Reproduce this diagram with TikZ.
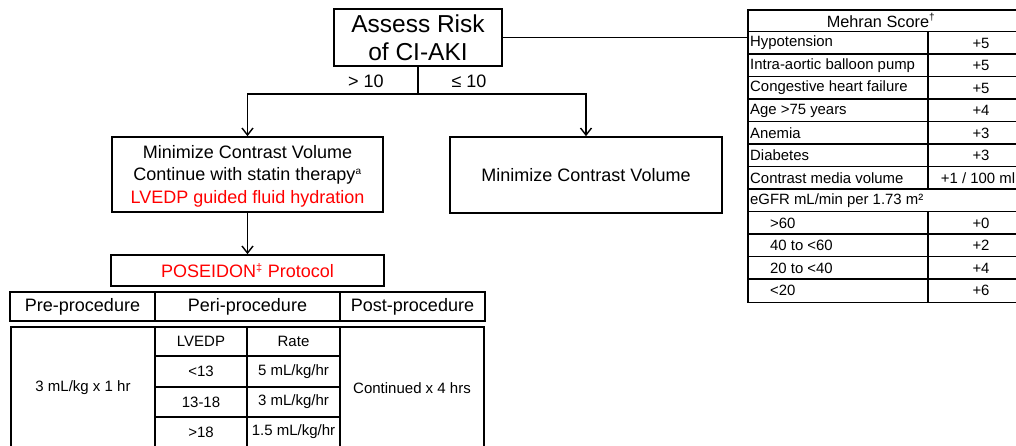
\documentclass[tikz,border=0pt]{standalone}
\usepackage{fontspec}
\setmainfont{Liberation Sans}
\usetikzlibrary{arrows.meta}
\begin{document}
\begin{tikzpicture}[x=1pt,y=-1pt,
  box/.style={draw, line width=1.7pt, inner sep=0pt, align=center},
  arr/.style={-{Straight Barb[length=7pt,width=11pt,line width=1.4pt]}, line width=1.4pt},
  tline/.style={line width=1.5pt},
  big/.style={font=\fontsize{24.5}{28}\selectfont},
  mid/.style={font=\fontsize{18}{22.5}\selectfont},
  hdr/.style={font=\fontsize{18}{20}\selectfont},
  small/.style={font=\fontsize{15}{17}\selectfont},
  mtxt/.style={font=\fontsize{14.9}{17}\selectfont, inner sep=0pt},
  lbl/.style={mtxt, anchor=west},
  val/.style={mtxt, anchor=center}
]
\useasboundingbox (0,0) rectangle (1016,445);

% flow chart
\node[box, big, minimum width=168pt, minimum height=57pt] (assess) at (418,37.5) {Assess Risk\\of CI-AKI};
\coordinate (split) at (418,94);
\node[box, mid, minimum width=271pt, minimum height=75pt] (left) at (247.5,174.5)
  {\rule{0pt}{16pt}Minimize Contrast Volume\\Continue with statin therapy\textsuperscript{\fontsize{10}{10}\selectfont a}\\\textcolor{red}{LVEDP guided fluid hydration}};
\node[box, mid, minimum width=272pt, minimum height=76pt] (right) at (586,175) {Minimize Contrast Volume};
\node[box, mid, minimum width=273pt, minimum height=31pt, text=red] (pos) at (247.5,270.5) {POSEIDON\textsuperscript{\fontsize{11}{11}\selectfont ‡} Protocol};

\draw[line width=1.4pt] (assess.south) -- (split);
\draw[arr] (split) -| (left.north);
\draw[arr] (split) -| (right.north);
\draw[arr] (left.south) -- (left.south |- pos.north);
\node[mid, inner sep=0pt] (gt) at (366,81) {> 10};
\node[mid, inner sep=0pt] (le) at (469,81) {≤ 10};

% procedure header table
\node[draw, tline, minimum width=475pt, minimum height=29pt, inner sep=0pt] (ph) at (247.5,306.5) {};
\draw[tline] (155,292) -- (155,321) (340,292) -- (340,321);
\node[hdr] (h1) at (82.5,306.5) {Pre-procedure};
\node[hdr] (h2) at (247.5,306.5) {Peri-procedure};
\node[hdr] (h3) at (412.5,306.5) {Post-procedure};

% procedure body table
\draw[tline] (11,450) -- (11,327) -- (484,327) -- (484,450);
\draw[tline] (155,327) -- (155,450) (340,327) -- (340,450) (247,327) -- (247,450);
\draw[tline] (155,356) -- (340,356) (155,387) -- (340,387) (155,417) -- (340,417);
\node[small] (pre) at (83,388) {3 mL/kg x 1 hr};
\node[small] (post) at (412,388) {Continued x 4 hrs};
\node[small] (c11) at (201,341.5) {LVEDP};
\node[small] (c12) at (293.5,341.5) {Rate};
\node[small] (c21) at (201,371.5) {<13};
\node[small] (c22) at (293.5,371.5) {5 mL/kg/hr};
\node[small] (c31) at (201,402) {13-18};
\node[small] (c32) at (293.5,402) {3 mL/kg/hr};
\node[small] (c41) at (201,432) {>18};
\node[small] (c42) at (293.5,432) {1.5 mL/kg/hr};

% Mehran table
\node[draw, tline, minimum width=289pt, minimum height=292.5pt, inner sep=0pt, anchor=north west] (mehran) at (747,9) {};
\draw[line width=1.4pt] (assess.east) -- (assess.east -| mehran.west);
\foreach \i in {1,...,12} {
  \draw[tline] (747,9+22.5*\i) -- (1036,9+22.5*\i);
}
\draw[tline] (928,31.5) -- (928,189);
\draw[tline] (928,211.5) -- (928,301.5);
\node[mtxt, font=\fontsize{16.3}{18}\selectfont] (mh) at (881,20.5) {Mehran Score\textsuperscript{\fontsize{10}{10}\selectfont †}};
\node[lbl] (r1) at (750,43) {Hypotension};
\node[lbl] (r2) at (750,65.5) {Intra-aortic balloon pump};
\node[lbl] (r3) at (750,88) {Congestive heart failure};
\node[lbl] (r4) at (750,110.5) {Age >75 years};
\node[lbl] (r5) at (750,133) {Anemia};
\node[lbl] (r6) at (750,155.5) {Diabetes};
\node[lbl] (r7) at (750,178) {Contrast media volume};
\node[lbl] (r8) at (750,200.5) {eGFR mL/min per 1.73 m²};
\node[lbl] (r9) at (770,223) {>60};
\node[lbl] (r10) at (770,245.5) {40 to <60};
\node[lbl] (r11) at (770,268) {20 to <40};
\node[lbl] (r12) at (770,290.5) {<20};
\node[val] (v1) at (981,43) {+5};
\node[val] (v2) at (981,65.5) {+5};
\node[val] (v3) at (981,88) {+5};
\node[val] (v4) at (981,110.5) {+4};
\node[val] (v5) at (981,133) {+3};
\node[val] (v6) at (981,155.5) {+3};
\node[val] (v7) at (978,178) {+1 / 100 ml};
\node[val] (v9) at (981,223) {+0};
\node[val] (v10) at (981,245.5) {+2};
\node[val] (v11) at (981,268) {+4};
\node[val] (v12) at (981,290.5) {+6};
\end{tikzpicture}
\end{document}
